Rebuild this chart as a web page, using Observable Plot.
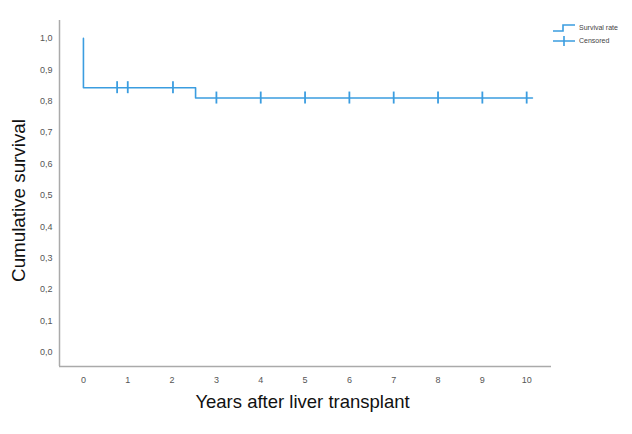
<!DOCTYPE html>
<html><head><meta charset="utf-8">
<script src="https://cdn.jsdelivr.net/npm/d3@7"></script>
<script src="https://cdn.jsdelivr.net/npm/@observablehq/plot@0.6"></script>
<style>
body{margin:0;background:#fff;font-family:"Liberation Sans",Arial,sans-serif;}
#wrap{position:relative;width:632px;height:434px;}
#legend{position:absolute;left:552px;top:21px;font-size:7px;color:#444;line-height:13px;}
#legend div{display:flex;align-items:center;}
#legend svg{margin-right:3px;}
</style></head><body>
<div id="wrap"><div id="chart"></div>
<div id="legend">
<div><svg width="24" height="10"><path d="M1,8H11V2H23" fill="none" stroke="#3b9de0" stroke-width="1.6"/></svg>Survival rate</div>
<div><svg width="24" height="10"><path d="M1,5H23M12,0V10" fill="none" stroke="#3b9de0" stroke-width="1.6"/></svg>Censored</div>
</div></div>
<script>
const stepTimes = [0, 0, 2.53, 10.13];
const stepSurvival = [1.0, 0.843, 0.81, 0.81];
const censorTimes = [0.76, 1.0, 2.02, 3, 4, 5, 6, 7, 8, 9, 10];
const censorSurvival = [0.843, 0.843, 0.843, 0.81, 0.81, 0.81, 0.81, 0.81, 0.81, 0.81, 0.81];
const xTicks = [0,1,2,3,4,5,6,7,8,9,10];
const yTicks = [0,0.1,0.2,0.3,0.4,0.5,0.6,0.7,0.8,0.9,1.0];
const xDomain = [-0.54, 10.56];
const yDomain = [-0.045, 1.057];

const steps = stepTimes.map((t,i)=>({t, s: stepSurvival[i]}));
const cens = censorTimes.map((t,i)=>({t, s: censorSurvival[i]}));
const color = "#3b9de0";
const fmt = d => d3.format(".1f")(d).replace(".", ",");

const chart = Plot.plot({
  width: 632, height: 434,
  marginLeft: 59, marginRight: 81, marginTop: 20, marginBottom: 68,
  style: {fontFamily: "Liberation Sans, Arial, sans-serif", background: "#fff"},
  x: {domain: xDomain},
  y: {domain: yDomain},
  marks: [
    Plot.ruleX([xDomain[0]], {stroke: "#aaa", strokeWidth: 1.5}),
    Plot.ruleY([yDomain[0]], {stroke: "#aaa", strokeWidth: 1.5}),
    Plot.axisY(yTicks, {tickSize: 0, tickPadding: 7, tickFormat: fmt, fontSize: 9, fill: "#555", label: null}),
    Plot.axisX(xTicks, {tickSize: 0, tickPadding: 10, tickFormat: d3.format("d"), fontSize: 9, fill: "#555", label: null}),
    Plot.text(["Cumulative survival"], {frameAnchor: "left", textAnchor: "middle", dx: -41, dy: 7, rotate: -90, fontSize: 18.8, fill: "#111"}),
    Plot.text(["Years after liver transplant"], {frameAnchor: "bottom", dx: -3, dy: 41, fontSize: 18.5, fill: "#111"}),
    Plot.line(steps, {x: "t", y: "s", curve: "step-after", stroke: color, strokeWidth: 1.6}),
    Plot.ruleX(cens, {x: "t", y1: "s", y2: "s", insetTop: -6, insetBottom: -6, stroke: color, strokeWidth: 1.8})
  ]
});
document.getElementById("chart").append(chart);
</script>
</body></html>
